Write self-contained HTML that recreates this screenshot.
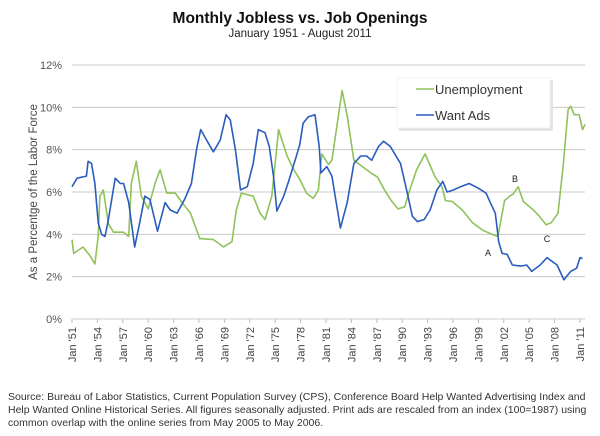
<!DOCTYPE html>
<html><head><meta charset="utf-8"><style>
body{margin:0;background:#fff;}
svg{display:block;font-family:"Liberation Sans",sans-serif;}
</style></head><body>
<svg id="chart" width="600" height="436" viewBox="0 0 600 436" xmlns="http://www.w3.org/2000/svg">
<text x="300" y="23" text-anchor="middle" font-size="15.5" font-weight="bold" fill="#111">Monthly Jobless vs. Job Openings</text>
<text x="300" y="37" text-anchor="middle" font-size="11.5" fill="#222">January 1951 -  August 2011</text>
<text transform="translate(37,192) rotate(-90)" text-anchor="middle" font-size="11.5" fill="#444">As a Percentge of the Labor Force</text>
<g id="grid"></g><g id="axes"></g><g id="series"></g>
<g>
<rect x="399" y="80" width="154" height="51" fill="#e4e4e4"/>
<rect x="397" y="78" width="153" height="50" fill="#fff" stroke="#eee" stroke-width="0.8"/>
<line x1="416" y1="89" x2="434" y2="89" stroke="#8fc25a" stroke-width="1.6"/>
<text x="435" y="94" font-size="13" fill="#333">Unemployment</text>
<line x1="416" y1="115" x2="434" y2="115" stroke="#2a5cbf" stroke-width="1.6"/>
<text x="435" y="120" font-size="13" fill="#333">Want Ads</text>
</g>
<text x="488" y="256" text-anchor="middle" font-size="9" fill="#222">A</text>
<text x="515" y="182" text-anchor="middle" font-size="9" fill="#222">B</text>
<text x="547" y="242" text-anchor="middle" font-size="9" fill="#222">C</text>
<g font-size="10.5" fill="#333">
<text x="8" y="400">Source: Bureau of Labor Statistics, Current Population Survey (CPS), Conference Board Help Wanted Advertising Index and</text>
<text x="8" y="413">Help Wanted Online Historical Series.  All figures seasonally adjusted.  Print ads are rescaled from an index (100=1987) using</text>
<text x="8" y="426">common overlap with the online series from May 2005 to May 2006.</text>
</g>
</svg>
<script>
const yTicks=[0,2,4,6,8,10,12];
const yTickLabels=["0%","2%","4%","6%","8%","10%","12%"];
const xTickYears=[1951,1954,1957,1960,1963,1966,1969,1972,1975,1978,1981,1984,1987,1990,1993,1996,1999,2002,2005,2008,2011];
const xTickLabels=["Jan '51","Jan '54","Jan '57","Jan '60","Jan '63","Jan '66","Jan '69","Jan '72","Jan '75","Jan '78","Jan '81","Jan '84","Jan '87","Jan '90","Jan '93","Jan '96","Jan '99","Jan '02","Jan '05","Jan '08","Jan '11"];
const unempDates=[1951.0,1951.2,1952.3,1953.1,1953.7,1954.1,1954.3,1954.7,1955.3,1955.9,1957.1,1957.7,1958.0,1958.6,1959.2,1960.0,1960.8,1961.4,1962.2,1963.2,1964.0,1965.0,1966.1,1967.7,1968.9,1969.9,1970.4,1971.0,1972.4,1973.2,1973.8,1974.6,1975.4,1976.4,1977.2,1977.9,1978.7,1979.5,1980.1,1980.5,1981.3,1981.7,1982.1,1982.9,1983.5,1984.3,1985.3,1986.3,1987.1,1987.9,1988.7,1989.5,1990.3,1990.9,1991.7,1992.7,1993.9,1994.7,1995.1,1995.9,1997.1,1998.3,1999.5,2000.6,2001.3,2002.1,2002.7,2003.1,2003.7,2004.3,2005.5,2006.2,2007.0,2007.6,2008.4,2009.0,2009.6,2009.9,2010.3,2010.9,2011.3,2011.6];
const unempValues=[3.75,3.1,3.4,3.0,2.6,3.9,5.8,6.1,4.5,4.1,4.1,3.9,6.4,7.45,5.8,5.2,6.4,7.05,5.95,5.95,5.5,5.0,3.8,3.75,3.4,3.65,5.15,5.95,5.8,5.0,4.7,5.8,8.95,7.7,7.05,6.6,5.95,5.7,6.1,7.8,7.3,7.5,8.6,10.8,9.6,7.5,7.2,6.9,6.7,6.1,5.6,5.2,5.3,6.1,7.05,7.8,6.7,6.25,5.6,5.55,5.15,4.55,4.2,4.0,3.9,5.6,5.8,5.9,6.25,5.55,5.15,4.85,4.45,4.55,5.0,7.2,9.9,10.05,9.65,9.65,8.95,9.2];
const adsDates=[1951.0,1951.6,1952.7,1952.9,1953.3,1953.7,1954.1,1954.5,1954.9,1955.3,1956.1,1956.7,1957.1,1957.7,1958.4,1959.0,1959.6,1960.2,1961.1,1962.0,1962.6,1963.4,1964.3,1965.1,1965.7,1966.2,1966.9,1967.7,1968.5,1969.2,1969.7,1970.3,1970.9,1971.7,1972.4,1973.0,1973.8,1974.3,1974.8,1975.2,1976.0,1976.7,1977.5,1977.9,1978.3,1978.9,1979.7,1980.2,1980.4,1981.1,1981.7,1982.7,1983.5,1984.3,1985.1,1985.8,1986.4,1987.2,1987.8,1988.6,1989.8,1990.6,1991.2,1991.8,1992.6,1993.3,1994.1,1994.8,1995.3,1996.1,1996.9,1997.9,1998.9,1999.9,2000.4,2001.0,2001.4,2001.8,2002.4,2003.0,2004.0,2004.7,2005.3,2006.3,2007.1,2008.3,2009.1,2009.9,2010.6,2011.0,2011.3];
const adsValues=[6.25,6.65,6.75,7.45,7.35,6.4,4.55,4.0,3.9,4.7,6.65,6.4,6.4,5.5,3.4,4.55,5.8,5.65,4.15,5.5,5.15,5.0,5.65,6.4,8.0,8.95,8.45,7.9,8.45,9.65,9.4,8.0,6.1,6.25,7.35,8.95,8.8,8.15,6.75,5.1,5.8,6.65,7.7,8.25,9.25,9.55,9.65,8.15,6.9,7.2,6.75,4.3,5.5,7.35,7.7,7.7,7.5,8.15,8.4,8.15,7.35,5.95,4.85,4.6,4.7,5.15,6.1,6.5,6.0,6.1,6.25,6.4,6.2,5.95,5.5,5.0,3.65,3.1,3.05,2.55,2.5,2.55,2.25,2.55,2.9,2.55,1.85,2.25,2.4,2.9,2.85];

const NS="http://www.w3.org/2000/svg";
const X0=72,X1=580,Y0=319,Y12=65;
function xs(yr){return X0+(yr-1951)*(X1-X0)/60;}
function ys(v){return Y0-v*(Y0-Y12)/12;}
function mk(tag,attrs,parent){const e=document.createElementNS(NS,tag);for(const k in attrs)e.setAttribute(k,attrs[k]);parent.appendChild(e);return e;}
const grid=document.getElementById('grid'),axes=document.getElementById('axes'),series=document.getElementById('series');
yTicks.forEach((t,i)=>{
  const l=mk('line',{x1:X0,x2:585,y1:ys(t),y2:ys(t),stroke:t===0?'#ccc':'#c8c8c8','stroke-width':1},grid);
  
  
  const tx=mk('text',{x:62,y:ys(t)+4,'text-anchor':'end','font-size':11,fill:'#555'},axes);
  tx.textContent=yTickLabels[i];
  
  
});
xTickYears.forEach((yr,i)=>{
  const x=xs(yr);
  const tk=mk('line',{x1:x,x2:x,y1:Y0,y2:Y0+4,stroke:'#bbb'},axes);
  
  
  const tx=mk('text',{transform:`translate(${x+4},${327}) rotate(-90)`,'text-anchor':'end','font-size':11,fill:'#444'},axes);
  tx.textContent=xTickLabels[i];
  
  
});
function line(dates,vals,color,name){
  const d=dates.map((t,i)=>(i?'L':'M')+xs(t).toFixed(1)+' '+ys(vals[i]).toFixed(1)).join(' ');
  const p=mk('path',{d:d,fill:'none',stroke:color,'stroke-width':1.6,'stroke-linejoin':'round'},series);
  
  
}
line(unempDates,unempValues,'#8fc25a','unemployment-line');
line(adsDates,adsValues,'#2a5cbf','want-ads-line');
</script>
</body></html>
